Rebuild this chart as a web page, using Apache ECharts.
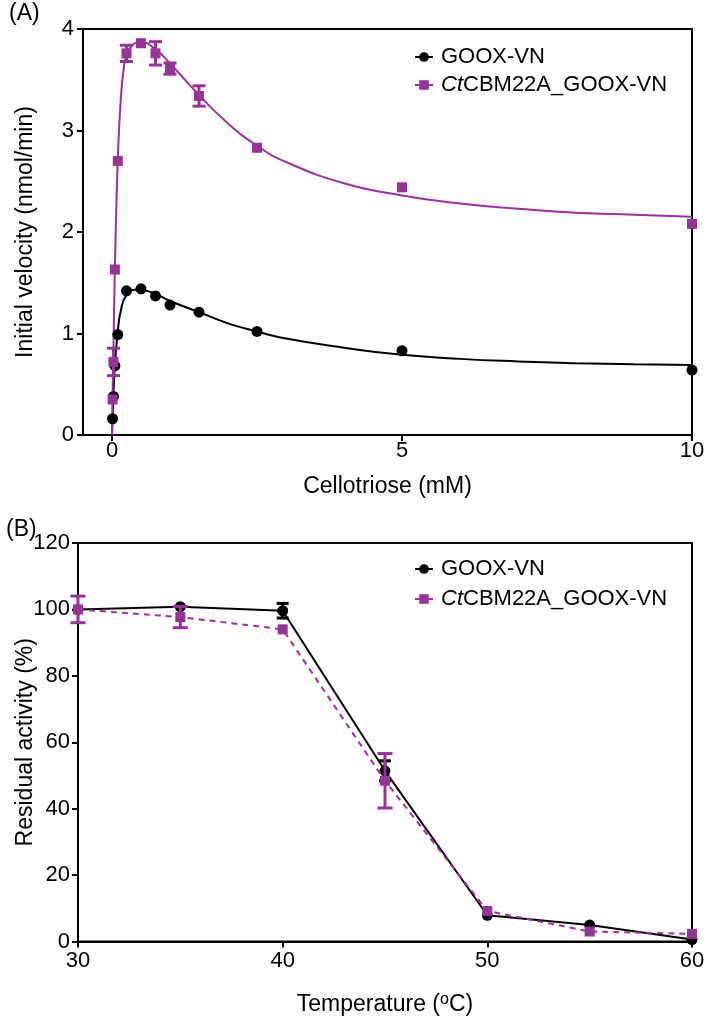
<!DOCTYPE html>
<html>
<head>
<meta charset="utf-8">
<script src="https://cdn.jsdelivr.net/npm/echarts@6/dist/echarts.min.js"></script>
<style>html,body{margin:0;padding:0;background:#fff}#c{width:709px;height:1017px}</style>
</head>
<body>
<div id="c"></div>
<script>
// ---------- Panel A data ----------
const concA = [0.01, 0.025, 0.05, 0.1, 0.25, 0.5, 0.75, 1, 1.5, 2.5, 5, 10];
const gooxA = [0.16, 0.38, 0.68, 0.99, 1.42, 1.44, 1.37, 1.28, 1.21, 1.02, 0.83, 0.64];
const ctA   = [0.35, 0.72, 1.63, 2.70, 3.76, 3.86, 3.76, 3.61, 3.34, 2.83, 2.44, 2.08];
const ctA_sd = [null, 0.135, null, null, 0.08, null, 0.115, 0.055, 0.10, null, null, null];
// fitted curves
const fitGooxX = [0, 0.01, 0.025, 0.05, 0.1, 0.15, 0.25, 0.4, 0.6, 1, 1.5, 2, 2.5, 3, 4, 5, 6, 7, 8, 9, 10];
const fitGooxY = [0, 0.17, 0.40, 0.68, 1.02, 1.22, 1.38, 1.43, 1.42, 1.32, 1.21, 1.10, 1.02, 0.95, 0.86, 0.79, 0.75, 0.725, 0.708, 0.697, 0.69];
const fitCtX = [0, 0.01, 0.025, 0.05, 0.1, 0.15, 0.2, 0.25, 0.35, 0.5, 0.75, 1, 1.5, 2, 2.5, 3, 4, 5, 6, 7, 8, 9, 10];
const fitCtY = [0, 0.40, 0.85, 1.65, 2.72, 3.30, 3.60, 3.74, 3.84, 3.87, 3.80, 3.66, 3.35, 3.07, 2.85, 2.69, 2.48, 2.36, 2.28, 2.23, 2.19, 2.17, 2.15];
const xTicksA = [0, 5, 10];

// ---------- Panel B data ----------
const tempB = [30, 35, 40, 45, 50, 55, 60];
const gooxB = [100, 100.8, 99.6, 51.4, 7.9, 5.0, 0.6];
const gooxB_sd = [null, null, 2.2, 3.0, null, null, null];
const ctB = [100, 97.7, 94, 48.4, 9.2, 3.0, 2.3];
const ctB_sd = [4, 3.2, null, 8.2, null, null, null];

const NAME1 = 'GOOX-VN';
const NAME2 = 'CtCBM22A_GOOX-VN';
const PURPLE = '#993399';
const FONT = '"Liberation Sans", Arial, Helvetica, sans-serif';

function pairs(xs, ys) { return xs.map((x, i) => [x, ys[i]]); }
function errData(xs, ys, sds) {
  const out = [];
  xs.forEach((x, i) => { if (sds[i] != null) out.push([x, ys[i] - sds[i], ys[i] + sds[i]]); });
  return out;
}
function errSeries(data, color, cap, lw, xi, yi, z) {
  return {
    type: 'custom', xAxisIndex: xi, yAxisIndex: yi, z: z, silent: true,
    data: data,
    renderItem: function (params, api) {
      const x = api.value(0);
      const lo = api.coord([x, api.value(1)]);
      const hi = api.coord([x, api.value(2)]);
      const st = { stroke: color, lineWidth: lw };
      return { type: 'group', children: [
        { type: 'line', shape: { x1: lo[0], y1: lo[1], x2: hi[0], y2: hi[1] }, style: st },
        { type: 'line', shape: { x1: lo[0] - cap / 2, y1: lo[1], x2: lo[0] + cap / 2, y2: lo[1] }, style: st },
        { type: 'line', shape: { x1: hi[0] - cap / 2, y1: hi[1], x2: hi[0] + cap / 2, y2: hi[1] }, style: st }
      ] };
    }
  };
}

const axisCommon = {
  nameMoveOverlap: false,
  axisLine: { show: true, onZero: false, lineStyle: { color: '#000', width: 2 } },
  axisTick: { show: true, inside: false, length: 6, lineStyle: { color: '#000', width: 2 } },
  splitLine: { show: false },
  axisLabel: { color: '#000', fontSize: 22, fontFamily: FONT },
  nameTextStyle: { color: '#000', fontSize: 23, fontFamily: FONT }
};

const legendRich = {
  i: { fontStyle: 'italic', fontSize: 22, fontFamily: FONT, color: '#000' },
  n: { fontSize: 22, fontFamily: FONT, color: '#000' }
};
function legendFmt(name) {
  return name === NAME2 ? '{i|Ct}{n|CBM22A_GOOX-VN}' : '{n|' + name + '}';
}
function legend(top, gap) {
  return {
    orient: 'vertical', left: 414, top: top, itemWidth: 18, itemHeight: 12, itemGap: gap,
    padding: 0, selectedMode: false, data: [NAME1, NAME2],
    formatter: legendFmt,
    textStyle: { fontSize: 22, fontFamily: FONT, color: '#000', rich: legendRich, padding: [0, 0, 0, 3] },
    lineStyle: { width: 2, opacity: 1, type: 'solid' }
  };
}

const option = {
  animation: false,
  backgroundColor: '#fff',
  title: [
    { text: '(A)', left: 9, top: 2, padding: 0, textStyle: { fontSize: 23, fontWeight: 'normal', fontFamily: FONT, color: '#000' } },
    { text: '(B)', left: 6, top: 518, padding: 0, textStyle: { fontSize: 23, fontWeight: 'normal', fontFamily: FONT, color: '#000' } }
  ],
  legend: [legend(46, 6), legend(558, 8)],
  grid: [
    { left: 83, top: 29, width: 609, height: 406, show: true, borderColor: '#000', borderWidth: 2, backgroundColor: 'transparent' },
    { left: 78, top: 543, width: 614, height: 409, show: true, borderColor: '#000', borderWidth: 2, backgroundColor: 'transparent' }
  ],
  xAxis: [
    Object.assign({}, axisCommon, {
      type: 'value', gridIndex: 0, min: -0.5, max: 10,
      name: 'Cellotriose (mM)', nameLocation: 'middle', nameGap: 40,
      axisTick: Object.assign({}, axisCommon.axisTick, { customValues: xTicksA }),
      axisLabel: Object.assign({}, axisCommon.axisLabel, { customValues: xTicksA, margin: 5 })
    }),
    Object.assign({}, axisCommon, {
      type: 'value', gridIndex: 1, min: 30, max: 60, interval: 10,
      name: 'Temperature ({sup|o}C)', nameLocation: 'middle', nameGap: 50,
      axisLabel: Object.assign({}, axisCommon.axisLabel, { margin: 8 }),
      nameTextStyle: Object.assign({}, axisCommon.nameTextStyle, {
        rich: { sup: { fontSize: 16, fontFamily: FONT, color: '#000', verticalAlign: 'top', padding: [0, 0, 10, 0] } }
      })
    })
  ],
  yAxis: [
    Object.assign({}, axisCommon, {
      type: 'value', gridIndex: 0, min: 0, max: 4, interval: 1,
      name: 'Initial velocity (nmol/min)', nameLocation: 'middle', nameGap: 46,
      axisLabel: Object.assign({}, axisCommon.axisLabel, { margin: 9 })
    }),
    Object.assign({}, axisCommon, {
      type: 'value', gridIndex: 1, min: 0, max: 120, interval: 20,
      name: 'Residual activity (%)', nameLocation: 'middle', nameGap: 41,
      axisLabel: Object.assign({}, axisCommon.axisLabel, { margin: 8 })
    })
  ],
  series: [
    // Panel A fit curves
    { type: 'line', xAxisIndex: 0, yAxisIndex: 0, data: pairs(fitGooxX, fitGooxY), symbol: 'none', smooth: 0.5,
      lineStyle: { color: '#000', width: 2 }, silent: true, z: 2 },
    { type: 'line', xAxisIndex: 0, yAxisIndex: 0, data: pairs(fitCtX, fitCtY), symbol: 'none', smooth: 0.5,
      lineStyle: { color: PURPLE, width: 2 }, silent: true, z: 2 },
    // Panel A points
    { name: NAME1, type: 'line', xAxisIndex: 0, yAxisIndex: 0, data: pairs(concA, gooxA), symbol: 'circle', symbolSize: 11,
      itemStyle: { color: '#000' }, lineStyle: { color: '#000', width: 2, opacity: 0 }, clip: false, z: 3 },
    errSeries(errData(concA, ctA, ctA_sd), PURPLE, 13, 3, 0, 0, 4),
    { name: NAME2, type: 'line', xAxisIndex: 0, yAxisIndex: 0, data: pairs(concA, ctA), symbol: 'rect', symbolSize: 10,
      itemStyle: { color: PURPLE }, lineStyle: { color: PURPLE, width: 2, opacity: 0 }, clip: false, z: 5 },
    // Panel B
    { name: NAME1, type: 'line', xAxisIndex: 1, yAxisIndex: 1, data: pairs(tempB, gooxB), symbol: 'circle', symbolSize: 11,
      itemStyle: { color: '#000' }, lineStyle: { color: '#000', width: 2 }, clip: false, z: 3 },
    errSeries(errData(tempB, gooxB, gooxB_sd), '#000', 12, 3, 1, 1, 3),
    errSeries(errData(tempB, ctB, ctB_sd), PURPLE, 15, 3, 1, 1, 4),
    { name: NAME2, type: 'line', xAxisIndex: 1, yAxisIndex: 1, data: pairs(tempB, ctB), symbol: 'rect', symbolSize: 10,
      itemStyle: { color: PURPLE }, lineStyle: { color: PURPLE, width: 2, type: [6, 5] }, clip: false, z: 5 }
  ]
};

const chart = echarts.init(document.getElementById('c'), null, { renderer: 'canvas' });
chart.setOption(option);
</script>
</body>
</html>
